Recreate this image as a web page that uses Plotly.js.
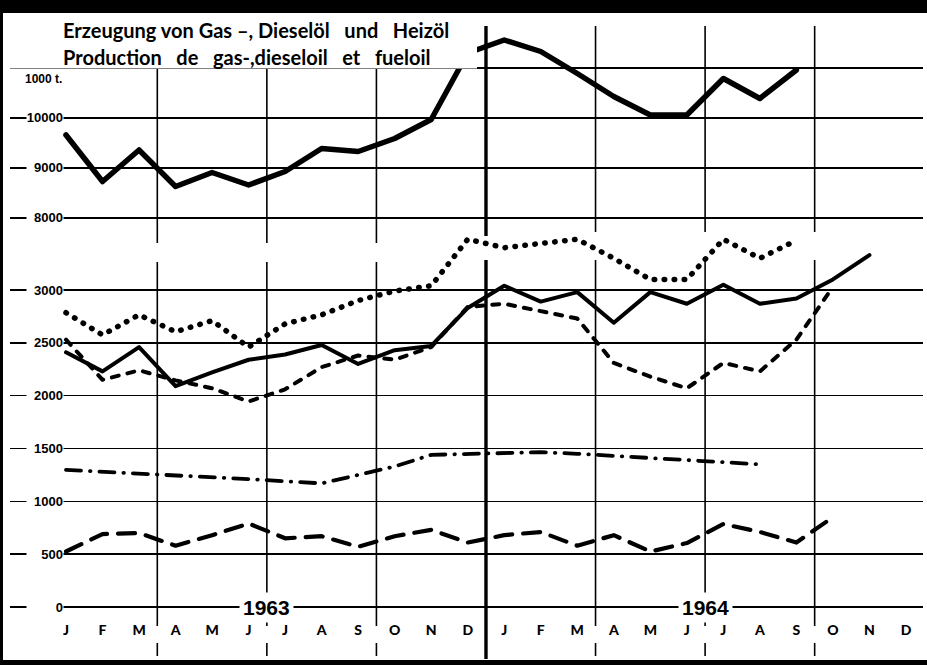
<!DOCTYPE html>
<html><head><meta charset="utf-8">
<script src="https://cdn.plot.ly/plotly-3.0.1.min.js"></script>
<style>
html,body{margin:0;padding:0;background:#fff;}
#chart{width:927px;height:665px;}
.js-line{stroke-linecap:round;stroke-linejoin:round;}
</style></head><body><div id="chart"></div>
<script>
// ---- data ----
const months = ['J','F','M','A','M','J','J','A','S','O','N','D','J','F','M','A','M','J','J','A','S','O','N','D'];
const years = ['1963','1964'];
const yearCenters = [5.5, 17.5];
const quarterBounds = [2.5, 5.5, 8.5, 11.5, 14.5, 17.5, 20.5];
const upperTicks = [8000, 9000, 10000, 11000];
const upperLabels = ['8000', '9000', '10000'];
const lowerTicks = [0, 500, 1000, 1500, 2000, 2500, 3000];
const unitLabel = '1000 t.';
const titleDe = 'Erzeugung von Gas –, Dieselöl  und  Heizöl';
const titleFr = 'Production  de  gas-,dieseloil  et  fueloil';

// total (upper scale)
const total     = [9660, 8730, 9360, 8630, 8910, 8660, 8930, 9390, 9330, 9590, 9970, 11300,
                   11560, 11330, 10890, 10430, 10060, 10060, 10790, 10390, 10960, null, null, null];
// lower scale series
const seriesDotted  = [2785, 2575, 2765, 2605, 2710, 2460, 2680, 2765, 2900, 2990, 3040, 3480,
                       3400, 3445, 3480, 3300, 3100, 3100, 3480, 3300, 3470, null, null, null];
const seriesSolid   = [2410, 2230, 2460, 2090, 2220, 2340, 2390, 2480, 2300, 2430, 2470, 2830,
                       3040, 2890, 2980, 2690, 2980, 2870, 3050, 2870, 2920, 3100, 3330, null];
const seriesDashed  = [2530, 2150, 2240, 2145, 2070, 1945, 2060, 2270, 2380, 2340, 2460, 2840,
                       2870, 2800, 2730, 2310, 2180, 2070, 2310, 2230, 2530, 3030, null, null];
const seriesDashDot = [1297, 1280, 1265, 1250, 1235, 1210, 1190, 1170, 1250, 1330, 1440, 1450,
                       1455, 1465, 1450, 1430, 1410, 1385, 1365, 1350, null, null, null, null];
const seriesLongDash= [525, 690, 700, 580, 680, 790, 650, 670, 570, 670, 730, 610,
                       680, 710, 580, 680, 525, 605, 785, 710, 610, 850, null, null];

// ---- geometry helpers ----
const W = 927, H = 665;
const px = x => x / W;
const py = y => (H - y) / H;
const monthIdx = months.map((m, i) => i);
const lowVal = y => (607 - y) * 3000 / 317;
const upVal  = y => 10000 + (118 - y) * 20;
const xr = [(10 - 66) / 36.52, (923 - 66) / 36.52];

const num = '"Liberation Sans", Arial, sans-serif';
const hum = 'Lato, "Open Sans", sans-serif';

const blk = '#000';
const traces = [
  {x: monthIdx, y: total, yaxis: 'y2', mode: 'lines', uid: 'total', name: 'Insgesamt',
   line: {color: blk, width: 5.5}},
  {x: monthIdx, y: seriesDotted, mode: 'lines', uid: 'dotted', name: 'A',
   line: {color: blk, width: 5.5, dash: '0.5px,9.5px'}},
  {x: monthIdx, y: seriesSolid, mode: 'lines', uid: 'solid', name: 'B',
   line: {color: blk, width: 4}},
  {x: monthIdx, y: seriesDashed, mode: 'lines', uid: 'dashed', name: 'C',
   line: {color: blk, width: 4, dash: '7px,9px'}},
  {x: monthIdx, y: seriesDashDot, mode: 'lines', uid: 'dashdot', name: 'D',
   line: {color: blk, width: 3.8, dash: '15px,9px,0.5px,9px'}},
  {x: monthIdx, y: seriesLongDash, mode: 'lines', uid: 'longdash', name: 'E',
   line: {color: blk, width: 4.2, dash: '17px,11px'}}
];

const shapes = [];
// white box behind the title
shapes.push({type: 'rect', xref: 'paper', yref: 'paper', layer: 'above',
  x0: px(4), x1: px(477), y0: py(68.5), y1: py(13), fillcolor: '#fff', line: {width: 0}});
// vertical quarter lines
quarterBounds.forEach(q => {
  const thick = q === 11.5;
  const left = q < 11.5;
  const top = left ? 68 : 26;
  const segs = thick ? [[top, 236], [260, 659]]
             : left ? [[top, 243], [262, 626], [643, 656]]
                    : [[top, 232], [260, 626], [643, 656]];
  segs.forEach(s => shapes.push({type: 'line', xref: 'x', yref: 'paper', layer: 'below',
    x0: q, x1: q, y0: py(s[0]), y1: py(s[1]), line: {color: blk, width: thick ? 3.4 : 1.6}}));
});
// frame
shapes.push({type: 'rect', xref: 'paper', yref: 'paper', layer: 'above', x0: 0, x1: 1, y0: py(13), y1: 1, fillcolor: blk, line: {width: 0}});
shapes.push({type: 'rect', xref: 'paper', yref: 'paper', layer: 'above', x0: 0, x1: px(3), y0: 0, y1: 1, fillcolor: blk, line: {width: 0}});
shapes.push({type: 'rect', xref: 'paper', yref: 'paper', layer: 'above', x0: 0, x1: 1, y0: 0, y1: py(660), fillcolor: blk, line: {width: 0}});

const wide = s => s.replace(/  /g, ' &nbsp;&nbsp;');
const annotations = [];
annotations.push({xref: 'paper', yref: 'paper', x: px(62), y: py(43), xanchor: 'left', yanchor: 'bottom',
  text: '<b>' + wide(titleDe) + '</b>', showarrow: false, borderpad: 0, font: {family: hum, size: 20, color: blk, weight: 900}});
annotations.push({xref: 'paper', yref: 'paper', x: px(62), y: py(44), xanchor: 'left', yanchor: 'top',
  text: '<b>' + wide(titleFr) + '</b>', showarrow: false, borderpad: 0, font: {family: hum, size: 20, color: blk, weight: 900}});
annotations.push({xref: 'paper', yref: 'paper', x: px(64), y: py(79), xanchor: 'right', yanchor: 'middle',
  text: '<b>' + unitLabel + '</b>', showarrow: false, font: {family: num, size: 12, color: blk}});
const tickAnn = (v, axis) => ({xref: 'paper', yref: axis, x: px(64), y: v, xanchor: 'right', yanchor: 'middle',
  text: '<b>' + String(v) + '</b>', showarrow: false, bgcolor: '#fff', width: 36, align: 'right', borderpad: 0,
  font: {family: num, size: 13, color: blk}});
upperLabels.forEach(t => annotations.push(tickAnn(Number(t), 'y2')));
lowerTicks.forEach(v => annotations.push(tickAnn(v, 'y')));
years.forEach((yr, i) => annotations.push({xref: 'x', yref: 'y', x: yearCenters[i], y: 0,
  xanchor: 'center', yanchor: 'middle', text: '<b>' + yr + '</b>', showarrow: false, bgcolor: '#fff', borderpad: 3,
  font: {family: num, size: 21, color: blk}}));

const layout = {
  width: W, height: H, margin: {l: 0, r: 0, t: 0, b: 0},
  paper_bgcolor: '#fff', plot_bgcolor: 'rgba(0,0,0,0)', showlegend: false,
  xaxis: {domain: [px(10), px(923)], range: xr, tickmode: 'array', tickvals: monthIdx, ticktext: months,
    showgrid: false, zeroline: false, showline: false, ticks: '', anchor: 'free', position: py(620),
    tickfont: {family: hum, size: 14, color: blk, weight: 900}},
  yaxis: {domain: [0, py(225)], range: [lowVal(665), lowVal(225)], tickmode: 'array', tickvals: lowerTicks,
    showticklabels: false, showgrid: true, gridcolor: blk, gridwidth: 1.6, zeroline: false, ticks: '', showline: false},
  yaxis2: {domain: [py(232), py(13)], range: [upVal(232), upVal(13)], tickmode: 'array', tickvals: upperTicks,
    showticklabels: false, showgrid: true, gridcolor: blk, gridwidth: 1.6, zeroline: false, ticks: '', showline: false, anchor: 'x'},
  shapes: shapes, annotations: annotations
};

Plotly.newPlot('chart', traces, layout, {staticPlot: true, displayModeBar: false});
</script></body></html>
